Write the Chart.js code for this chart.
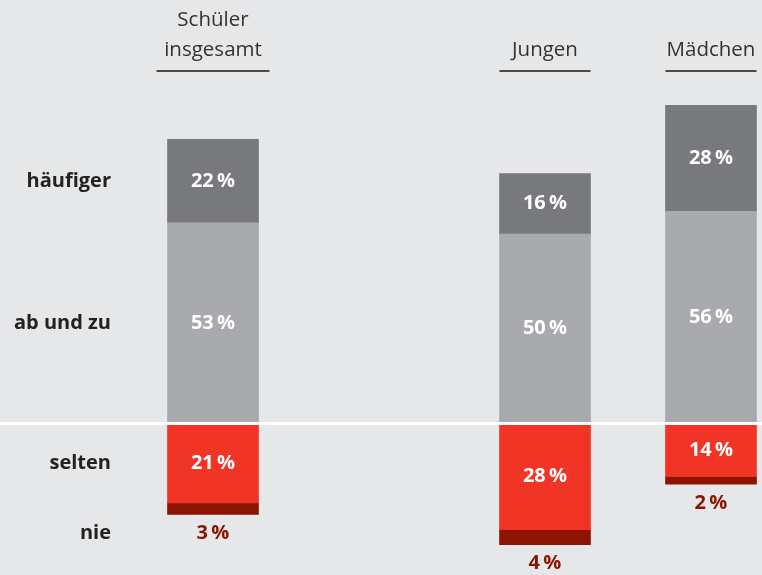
<!DOCTYPE html>
<html>
<head>
<meta charset="utf-8">
<script src="https://cdn.jsdelivr.net/npm/chart.js@4"></script>
<style>
  html, body { margin: 0; padding: 0; background: #e6e7e9; }
  #wrap { width: 762px; height: 575px; position: relative; }
</style>
</head>
<body>
<div id="wrap"><canvas id="c"></canvas></div>
<script>
// ---- data ----
const groups = [['Schüler', 'insgesamt'], '', 'Jungen', 'Mädchen'];
const rowLabels = ['häufiger', 'ab und zu', 'selten', 'nie'];
const haeufiger = [22, null, 16, 28];
const abUndZu   = [53, null, 50, 56];
const selten    = [21, null, 28, 14];
const nie       = [3,  null, 4,  2];

const FONT = '"Open Sans", sans-serif';
const C_DARK = '#78797d', C_LIGHT = '#a9aaae', C_RED = '#f03426', C_DRED = '#8c1400';
const pct = v => v + '\u2009%';

const labelPlugin = {
  id: 'labels',
  afterDatasetsDraw(chart) {
    const ctx = chart.ctx;
    const y = chart.scales.y, x = chart.scales.x;
    // zero line
    const y0 = y.getPixelForValue(0);
    ctx.save();
    ctx.strokeStyle = '#ffffff';
    ctx.lineWidth = 3;
    ctx.beginPath();
    ctx.moveTo(0, y0); ctx.lineTo(chart.width, y0);
    ctx.stroke();

    // value labels
    ctx.textAlign = 'center';
    ctx.textBaseline = 'middle';
    ctx.font = 'bold 20px ' + FONT;
    const rowY = [];
    chart.data.datasets.forEach((ds, di) => {
      const meta = chart.getDatasetMeta(di);
      meta.data.forEach((el, i) => {
        const raw = ds.rawValues[i];
        if (raw == null) return;
        const p = el.getProps(['x', 'y', 'base'], true);
        let ty, col;
        if (ds.outside) {
          ty = Math.max(p.y, p.base) + 19; col = C_DRED;
        } else {
          ty = (p.y + p.base) / 2; col = '#ffffff';
        }
        ctx.fillStyle = col;
        ctx.fillText(pct(raw), p.x, ty);
        if (i === 0) rowY[ds.row] = ty;
      });
    });

    // row labels
    ctx.textAlign = 'right';
    ctx.fillStyle = '#222222';
    rowLabels.forEach((t, r) => {
      if (rowY[r] != null) ctx.fillText(t, 111, rowY[r]);
    });

    // header underlines
    const uw = chart.options.plugins.labels.underlineWidths;
    ctx.strokeStyle = '#4a4a4a';
    ctx.lineWidth = 2;
    groups.forEach((g, i) => {
      if (!g) return;
      const cx = x.getPixelForValue(i);
      ctx.beginPath();
      ctx.moveTo(cx - uw[i] / 2, 71); ctx.lineTo(cx + uw[i] / 2, 71);
      ctx.stroke();
    });
    ctx.restore();
  }
};

new Chart(document.getElementById('c'), {
  type: 'bar',
  data: {
    labels: groups,
    datasets: [
      { label: 'ab und zu', data: abUndZu, rawValues: abUndZu, row: 1, backgroundColor: C_LIGHT },
      { label: 'häufiger', data: haeufiger, rawValues: haeufiger, row: 0, backgroundColor: C_DARK },
      { label: 'selten', data: selten.map(v => v == null ? null : -v), rawValues: selten, row: 2, backgroundColor: C_RED },
      { label: 'nie', data: nie.map(v => v == null ? null : -v), rawValues: nie, row: 3, outside: true, backgroundColor: C_DRED }
    ]
  },
  options: {
    responsive: true,
    maintainAspectRatio: false,
    animation: false,
    layout: { padding: { left: 213, right: 51, top: 0, bottom: 0 } },
    datasets: { bar: { barThickness: 91, borderWidth: 0, clip: false } },
    plugins: {
      legend: { display: false },
      tooltip: { enabled: false },
      labels: { underlineWidths: [113, 0, 91, 91] }
    },
    scales: {
      x: {
        position: 'top',
        stacked: true,
        offset: false,
        grid: { display: false, drawTicks: false },
        border: { display: false },
        ticks: {
          autoSkip: false, maxRotation: 0, padding: 10,
          color: '#333333',
          font: { family: FONT, size: 20.5, lineHeight: 1.46 }
        },
        afterFit(scale) {
          scale.height = 75;
          scale.paddingLeft = 0;
          scale.paddingRight = 0;
        }
      },
      y: {
        display: false,
        stacked: true,
        min: -40,
        max: 92
      }
    }
  },
  plugins: [labelPlugin]
});
</script>
</body>
</html>
